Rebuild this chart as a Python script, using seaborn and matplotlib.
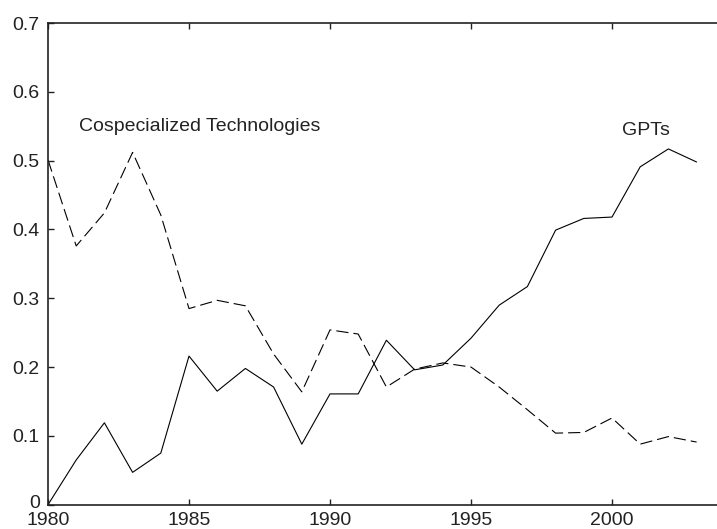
import matplotlib
matplotlib.use("Agg")
import matplotlib.pyplot as plt
import seaborn as sns
import pandas as pd

years = list(range(1980, 2004))
gpts = [0.0, 0.065, 0.119, 0.047, 0.075, 0.216, 0.165, 0.198, 0.171, 0.088,
        0.161, 0.161, 0.239, 0.196, 0.203, 0.242, 0.290, 0.317, 0.399, 0.416,
        0.418, 0.491, 0.517, 0.498]
cospec = [0.501, 0.376, 0.424, 0.512, 0.421, 0.285, 0.297, 0.289, 0.219, 0.164,
          0.254, 0.248, 0.171, 0.197, 0.206, 0.200, 0.171, 0.138, 0.104, 0.105,
          0.126, 0.088, 0.099, 0.091]
series_names = ["GPTs", "Cospecialized Technologies"]
x_ticks = [1980, 1985, 1990, 1995, 2000]
y_ticks = [0, 0.1, 0.2, 0.3, 0.4, 0.5, 0.6, 0.7]
y_tick_labels = ["0", "0.1", "0.2", "0.3", "0.4", "0.5", "0.6", "0.7"]

df = pd.DataFrame({
    "year": years * 2,
    "value": gpts + cospec,
    "series": [series_names[0]] * len(years) + [series_names[1]] * len(years),
})

sns.set_theme(style="white")
plt.rcParams["font.family"] = ["Liberation Sans", "DejaVu Sans"]

fig = plt.figure(figsize=(7.17, 5.29), dpi=100)
ax = fig.add_axes([48 / 717, 1 - 504.7 / 529, 1 - 48 / 717, (504.7 - 23) / 529])

sns.lineplot(data=df, x="year", y="value", hue="series", style="series",
             palette={series_names[0]: "black", series_names[1]: "black"},
             dashes={series_names[0]: "", series_names[1]: (11, 4.5)},
             linewidth=0.8, legend=False, ax=ax)

ax.set_xlim(1980, 1980 + (717 - 48) / 28.2)
ax.set_ylim(0, 0.7)
ax.set_xticks(x_ticks)
ax.set_xticklabels([str(t) for t in x_ticks])
ax.set_yticks(y_ticks)
ax.set_yticklabels(y_tick_labels)
ax.set_xlabel("")
ax.set_ylabel("")

for side in ["left", "bottom", "top"]:
    ax.spines[side].set_visible(True)
    ax.spines[side].set_color("#222222")
    ax.spines[side].set_linewidth(1.2)
ax.spines["right"].set_visible(False)

ax.tick_params(axis="both", direction="in", length=4.5, width=1.0,
               color="#222222", labelsize=14, labelcolor="#222222")
ax.tick_params(axis="x", top=True, bottom=True, pad=5)
ax.tick_params(axis="y", left=True, right=False, pad=6)

# nudge the "0" y-label up slightly so it sits just above the "1980" label
from matplotlib.transforms import ScaledTranslation
zero_lbl = ax.get_yticklabels()[0]
zero_lbl.set_transform(zero_lbl.get_transform() + ScaledTranslation(0, 2 / 72, fig.dpi_scale_trans))

ax.text(1981.1, 0.55, "Cospecialized Technologies", fontsize=14,
        color="#222222", ha="left", va="center")
ax.text(2000.34, 0.544, "GPTs", fontsize=14, color="#222222",
        ha="left", va="center")

fig.savefig("out.png", dpi=100, facecolor="white")
